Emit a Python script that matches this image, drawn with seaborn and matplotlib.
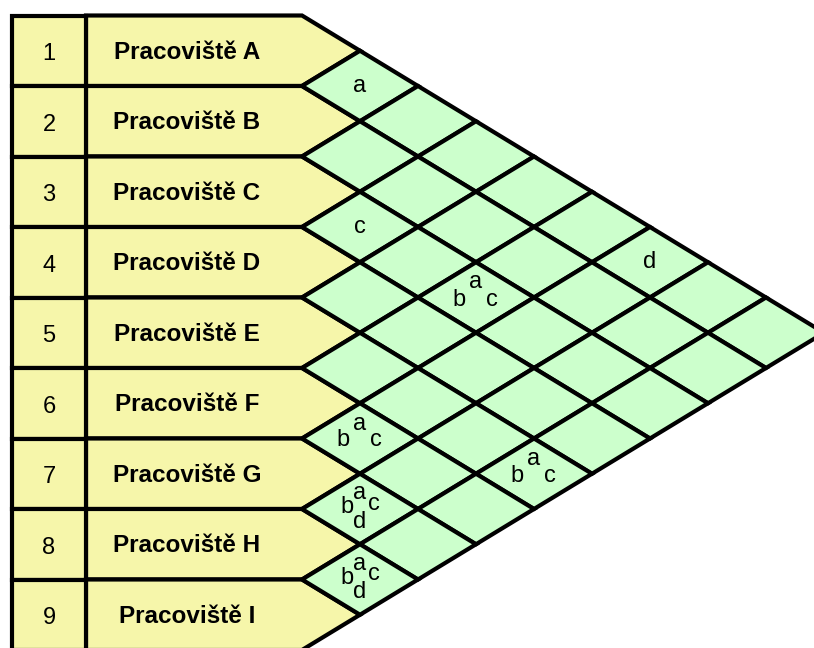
import matplotlib
matplotlib.use("Agg")
import matplotlib.pyplot as plt
from matplotlib.patches import Polygon
import seaborn as sns

# Workplaces (rows of the relationship chart)
row_numbers = [1, 2, 3, 4, 5, 6, 7, 8, 9]
row_labels = ["Pracoviště A", "Pracoviště B", "Pracoviště C", "Pracoviště D",
              "Pracoviště E", "Pracoviště F", "Pracoviště G", "Pracoviště H",
              "Pracoviště I"]

# Marked cells: pair of rows and the relation codes written inside
cell_pairs = [(1, 2), (3, 4), (1, 7), (3, 6), (6, 7), (5, 9), (7, 8), (8, 9)]
cell_codes = ["a", "c", "d", "bac", "bac", "bac", "abcd", "abcd"]

sns.set_theme(style="white")
plt.rcParams["font.family"] = ["Liberation Sans", "DejaVu Sans"]
plt.rcParams["text.color"] = "black"

YELLOW = "#F6F6AA"
GREEN = "#CCFFCC"
LW = 3.0

# geometry in pixel units of the 814x648 canvas
x_left, x_div, x_base = 12, 86, 302
top, row_h = 15.5, 70.5
hw = 58  # half width of one diamond

# where letters sit inside a cell holding several codes
offs3 = {"a": (0, -15), "b": (-17, 2), "c": (16, 2)}
offs4 = {"a": (0, -16), "b": (-13, -2), "c": (14, -5), "d": (0, 13)}

fig = plt.figure(figsize=(8.14, 6.48), dpi=100)
ax = fig.add_axes([0, 0, 1, 1])
ax.set_xlim(0, 814)
ax.set_ylim(648, 0)
ax.axis("off")

n = len(row_labels)
centers = [top + row_h * (i + 0.5) for i in range(n)]

# left part: number box + arrow shaped label box
for i, (num, lab) in enumerate(zip(row_numbers, row_labels)):
    y0, y1, yc = top + row_h * i, top + row_h * (i + 1), centers[i]
    ax.add_patch(Polygon([(x_div, y0), (x_base, y0), (x_base + hw, yc),
                          (x_base, y1), (x_div, y1)],
                         closed=True, fc=YELLOW, ec="black", lw=LW, joinstyle="miter"))
    ax.add_patch(Polygon([(x_left, y0), (x_div, y0), (x_div, y1), (x_left, y1)],
                         closed=True, fc=YELLOW, ec="black", lw=LW, joinstyle="miter"))
    ax.text((x_left + x_div) / 2, yc + 1, str(num), ha="center", va="center_baseline",
            fontsize=17)
    ax.text(187, yc - 1, lab, ha="center", va="center_baseline", fontsize=17.5,
            fontweight="bold")

# triangular matrix of diamonds
for i in range(n):
    for j in range(i + 1, n):
        cx = x_base + (j - i) * hw
        cy = (centers[i] + centers[j]) / 2
        ax.add_patch(Polygon([(cx - hw, cy), (cx, cy - row_h / 2), (cx + hw, cy),
                              (cx, cy + row_h / 2)],
                             closed=True, fc=GREEN, ec="black", lw=LW, joinstyle="miter"))

# relation codes
for (i, j), code in zip(cell_pairs, cell_codes):
    cx = x_base + (j - i) * hw
    cy = (centers[i - 1] + centers[j - 1]) / 2
    if len(code) == 1:
        ax.text(cx, cy, code, ha="center", va="center", fontsize=17)
        continue
    offs = offs4 if len(code) == 4 else offs3
    for ch in code:
        dx, dy = offs[ch]
        ax.text(cx + dx, cy + dy, ch, ha="center", va="center", fontsize=17)

fig.savefig("out.png", dpi=100)
